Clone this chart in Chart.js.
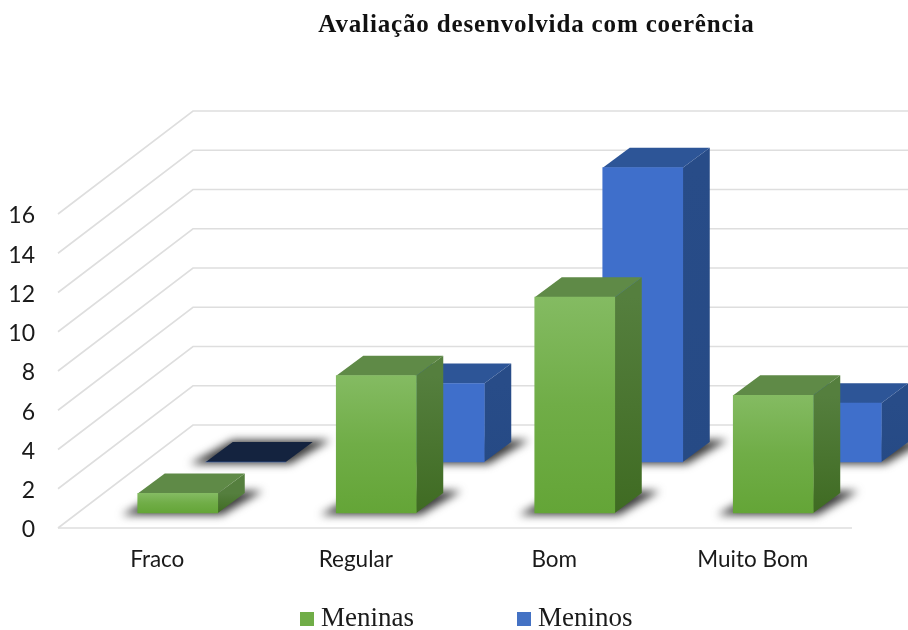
<!DOCTYPE html>
<html>
<head>
<meta charset="utf-8">
<title>Avaliação desenvolvida com coerência</title>
<script src="https://cdn.jsdelivr.net/npm/chart.js@4/dist/chart.umd.min.js"></script>
<style>
  body { margin: 0; background: #fff; }
  canvas { display: block; }
</style>
</head>
<body>
<canvas id="chart" width="908" height="630"></canvas>
<script>
const categories = ['Fraco', 'Regular', 'Bom', 'Muito Bom'];
const meninas = [1, 7, 11, 6];
const meninos = [0, 4, 15, 3];
const yTicks = [0, 2, 4, 6, 8, 10, 12, 14, 16];

// Oblique projection: how far each series sits behind the front plane, and the box depth
const wallDepth = { dx: 135, dy: -103 };
const boxDepth = { dx: 27, dy: -20 };
const seriesStyles = [
    { dx: 20.5, dy: -15, front: ['#84bb62', '#70ad47', '#64a537'], legend: '#70ad47',
      top: '#5f8a47', side: ['#557f3e', '#3f6b22'] },
    { dx: 88.5, dy: -66, front: ['#3f6fcb', '#3f6fcb', '#3f6fcb'], legend: '#4472c4',
      top: '#2d5597', side: ['#284c88', '#264a85'], flatTop: '#14233f' }
];
const gridColor = '#dedede';

function polygon(ctx, points) {
    ctx.beginPath();
    points.forEach((p, i) => i ? ctx.lineTo(p[0], p[1]) : ctx.moveTo(p[0], p[1]));
    ctx.closePath();
    ctx.fill();
}

function frontGradient(index) {
    return (context) => {
        const style = seriesStyles[index];
        const chart = context.chart;
        if (!chart.chartArea || !context.raw) return style.legend;
        const y = chart.scales.y;
        const g = chart.ctx.createLinearGradient(0, y.getPixelForValue(context.raw), 0, y.getPixelForValue(0));
        g.addColorStop(0, style.front[0]);
        g.addColorStop(0.5, style.front[1]);
        g.addColorStop(1, style.front[2]);
        return g;
    };
}

// Moves the title and legend to where the picture has them, the plot keeps its own padding
const placeBlocks = {
    id: 'placeBlocks',
    afterLayout(chart) {
        const title = chart.titleBlock;
        title.left = 165;
        title.right = 908;
        if (!title.spaced) {
            const drawTitle = title.draw;
            title.draw = function () {
                chart.ctx.save();
                chart.ctx.letterSpacing = '0.85px';
                drawTitle.apply(this, arguments);
                chart.ctx.restore();
            };
            title.spaced = true;
        }
        chart.legend.left = 31;
        chart.legend.right = 908;
        chart.legend.top = 496;
    }
};

const wallGrid = {
    id: 'wallGrid',
    beforeDatasetsDraw(chart) {
        const { ctx, scales: { x, y } } = chart;
        ctx.save();
        ctx.strokeStyle = gridColor;
        ctx.lineWidth = 1.6;
        yTicks.forEach((v) => {
            const py = y.getPixelForValue(v);
            ctx.beginPath();
            ctx.moveTo(x.left, py);
            ctx.lineTo(x.left + wallDepth.dx, py + wallDepth.dy);
            ctx.lineTo(908, py + wallDepth.dy);
            ctx.stroke();
        });
        const floor = y.getPixelForValue(0);
        ctx.beginPath();
        ctx.moveTo(x.left, floor);
        ctx.lineTo(x.right, floor);
        ctx.stroke();
        ctx.restore();
    }
};

// Draws shadow, side and top of each box, the front face is the library's own bar
const boxes = {
    id: 'boxes',
    beforeDatasetDraw(chart, args) {
        const { ctx } = chart;
        const style = seriesStyles[args.index];
        ctx.save();
        ctx.translate(style.dx, style.dy);
        args.meta.data.forEach((bar) => {
            const { x, y, base, width } = bar.getProps(['x', 'y', 'base', 'width'], true);
            const l = x - width / 2;
            const r = x + width / 2;
            const d = boxDepth;
            const flat = Math.abs(base - y) < 0.5;

            ctx.save();
            ctx.filter = 'blur(4px)';
            ctx.fillStyle = '#3c3c3c';
            polygon(ctx, [[l - 16, base + 2], [r + 4, base + 2], [r + d.dx + 18, base + d.dy - 2], [l + d.dx, base + d.dy - 2]]);
            ctx.restore();

            if (!flat) {
                const g = ctx.createLinearGradient(0, y, 0, base);
                g.addColorStop(0, style.side[0]);
                g.addColorStop(1, style.side[1]);
                ctx.fillStyle = g;
                polygon(ctx, [[r, y], [r + d.dx, y + d.dy], [r + d.dx, base + d.dy], [r, base]]);
            }
            ctx.fillStyle = flat && style.flatTop ? style.flatTop : style.top;
            polygon(ctx, [[l, y], [l + d.dx, y + d.dy], [r + d.dx, y + d.dy], [r, y]]);
        });
    },
    afterDatasetDraw(chart) {
        chart.ctx.restore();
    }
};

new Chart(document.getElementById('chart'), {
    type: 'bar',
    data: {
        labels: categories,
        datasets: [
            { label: 'Meninas', data: meninas, backgroundColor: frontGradient(0), clip: false },
            { label: 'Meninos', data: meninos, backgroundColor: frontGradient(1), clip: false }
        ]
    },
    plugins: [placeBlocks, wallGrid, boxes],
    options: {
        responsive: false,
        animation: false,
        grouped: false,
        barThickness: 80,
        layout: { padding: { right: 56 } },
        plugins: {
            title: {
                display: true,
                text: 'Avaliação desenvolvida com coerência',
                color: '#111',
                font: { family: '"Liberation Serif"', size: 25, weight: 'bold' },
                padding: { top: 11, bottom: 173 }
            },
            legend: {
                position: 'bottom',
                maxHeight: 40,
                labels: {
                    color: '#1a1a1a',
                    font: { family: '"Liberation Serif"', size: 27 },
                    usePointStyle: true,
                    boxWidth: 1,
                    boxHeight: 14,
                    padding: 109.5,
                    generateLabels: (chart) => Chart.defaults.plugins.legend.labels.generateLabels(chart).map((item, i) => {
                        item.fillStyle = seriesStyles[i].legend;
                        item.pointStyle = 'rect';
                        return item;
                    })
                }
            },
            tooltip: { enabled: false }
        },
        scales: {
            x: {
                grid: { display: false },
                border: { display: false },
                ticks: { color: '#1a1a1a', font: { family: 'Lato', size: 22.5 }, padding: 10, maxRotation: 0 },
                afterFit: (s) => { s.height = 62; }
            },
            y: {
                min: 0,
                max: 16,
                grid: { display: false },
                border: { display: false },
                afterBuildTicks: (s) => { s.ticks = yTicks.map((v) => ({ value: v })); },
                ticks: { color: '#1a1a1a', font: { family: 'Lato', size: 23 }, padding: 15, autoSkip: false, labelOffset: 2 },
                afterFit: (s) => { s.width = 58; }
            }
        }
    }
});
</script>
</body>
</html>
